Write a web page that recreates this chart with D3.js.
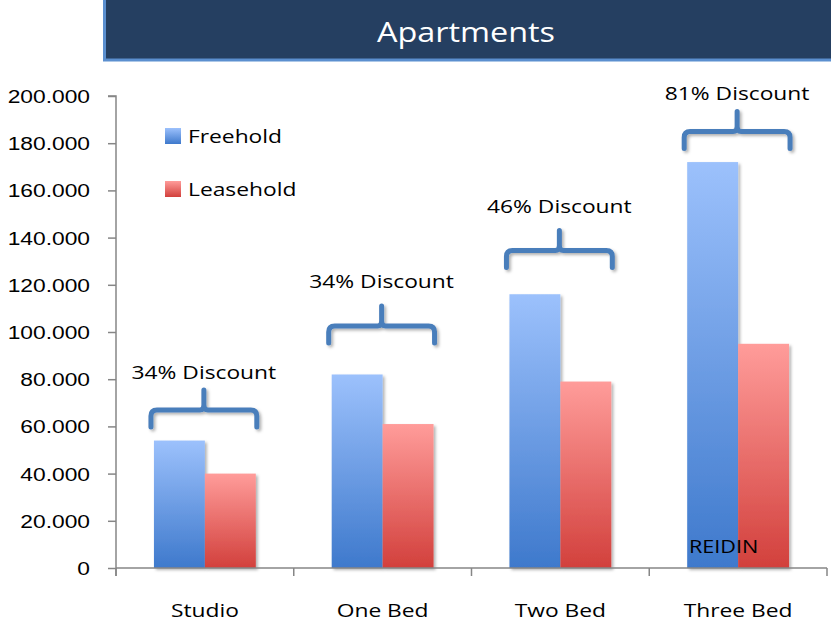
<!DOCTYPE html>
<html>
<head>
<meta charset="utf-8">
<script src="https://cdn.jsdelivr.net/npm/d3@7"></script>
<style>
  html, body { margin: 0; padding: 0; background: #fff; }
  svg { display: block; font-family: "Open Sans", sans-serif; }
</style>
</head>
<body>
<svg id="chart" width="831" height="624"></svg>
<script>
// Average prices per unit type (thousands)
const categories = ["Studio", "One Bed", "Two Bed", "Three Bed"];
const freehold = [54, 82, 116, 172];
const leasehold = [40, 61, 79, 95];
const discountLabels = ["34% Discount", "34% Discount", "46% Discount", "81% Discount"];
const braceLevels = [67, 102.5, 134.5, 185];
const labelLevels = [80, 118.5, 150.5, 198.3];
const yTicks = [0, 20, 40, 60, 80, 100, 120, 140, 160, 180, 200];
const seriesNames = ["Freehold", "Leasehold"];

const svg = d3.select("#chart");
const W = 831, H = 624;
const m = { left: 116, right: 4, top: 96, bottom: 56 };
const SX = 1.2; // wide lettering

const x = d3.scaleBand().domain(categories).range([m.left, W - m.right]).paddingInner(0).paddingOuter(0);
const sub = d3.scaleBand().domain(seriesNames).range([0, x.bandwidth()]).paddingInner(0).paddingOuter(0.745);
const y = d3.scaleLinear().domain([0, 200]).range([H - m.bottom, m.top]);

// place a text element at (px, py) with widened glyphs
function label(parent, px, py, str, size, anchor) {
  return parent.append("text")
    .attr("transform", `translate(${px},${py}) scale(${SX},1)`)
    .attr("text-anchor", anchor || "start")
    .attr("font-size", size).attr("fill", "#000").text(str);
}

const defs = svg.append("defs");
function grad(id, top, bottom) {
  const g = defs.append("linearGradient").attr("id", id).attr("x1", 0).attr("y1", 0).attr("x2", 0).attr("y2", 1);
  g.append("stop").attr("offset", "0%").attr("stop-color", top);
  g.append("stop").attr("offset", "100%").attr("stop-color", bottom);
}
grad("gFree", "#9cc1fc", "#3e79cc");
grad("gLease", "#ff9c9a", "#d2403c");
const sh = defs.append("filter").attr("id", "shadow").attr("x", "-20%").attr("y", "-20%").attr("width", "150%").attr("height", "150%");
sh.append("feDropShadow").attr("dx", 2).attr("dy", 2).attr("stdDeviation", 1.5).attr("flood-color", "#000").attr("flood-opacity", 0.3);

// Title banner
svg.append("rect").attr("x", 104.5).attr("y", -2).attr("width", 735).attr("height", 62)
  .attr("fill", "#253f61").attr("stroke", "#5b8fcf").attr("stroke-width", 3);
label(svg, 466, 42, "Apartments", 27, "middle").attr("fill", "#fff");

// Bars
const fills = { Freehold: "url(#gFree)", Leasehold: "url(#gLease)" };
const rows = categories.map((c, i) => ({ c, vals: [["Freehold", freehold[i]], ["Leasehold", leasehold[i]]] }));
const g = svg.append("g");
rows.forEach(r => {
  g.selectAll(null).data(r.vals).join("rect")
    .attr("x", d => x(r.c) + sub(d[0]))
    .attr("y", d => y(d[1]))
    .attr("width", sub.bandwidth())
    .attr("height", d => y(0) - y(d[1]))
    .attr("fill", d => fills[d[0]])
    .attr("filter", "url(#shadow)");
});

// Axes
const axisColor = "#868686";
const yAxis = svg.append("g").attr("transform", `translate(${m.left},0)`)
  .call(d3.axisLeft(y).tickValues(yTicks).tickSize(8).tickFormat(""));
yAxis.select(".domain").attr("stroke", axisColor).attr("stroke-width", 1.5).attr("d", `M-8,${y(200)}H0V${y(0) + 8}`);
yAxis.selectAll(".tick line").attr("stroke", axisColor).attr("stroke-width", 1.5);
yTicks.forEach(t => label(yAxis, -26, y(t) + 7, t === 0 ? "0" : t + ".000", 19, "end"));

const xAxis = svg.append("g").attr("transform", `translate(0,${y(0)})`);
xAxis.append("line").attr("x1", m.left).attr("x2", W - m.right).attr("stroke", axisColor).attr("stroke-width", 1.5);
const bounds = categories.map(c => x(c)).concat([x(categories[categories.length - 1]) + x.bandwidth()]);
xAxis.selectAll(null).data(bounds).join("line")
  .attr("x1", d => d).attr("x2", d => d).attr("y1", 0).attr("y2", 8)
  .attr("stroke", axisColor).attr("stroke-width", 1.5);
categories.forEach(c => label(xAxis, x(c) + x.bandwidth() / 2, 49, c, 19, "middle"));

// Discount braces and labels
const brace = svg.append("g");
categories.forEach((c, i) => {
  const x0 = x(c) + sub("Freehold") - 3;
  const x1 = x(c) + sub("Leasehold") + sub.bandwidth() + 1;
  const cx = (x0 + x1) / 2;
  const yl = y(braceLevels[i]);
  const r = 6;
  const p = `M${x0},${yl + 17} V${yl + r} Q${x0},${yl} ${x0 + r},${yl} H${cx - 4} Q${cx},${yl} ${cx},${yl - 5} V${yl - 20}` +
            ` M${cx},${yl - 5} Q${cx},${yl} ${cx + 4},${yl} H${x1 - r} Q${x1},${yl} ${x1},${yl + r} V${yl + 17}`;
  brace.append("path").attr("d", p).attr("fill", "none").attr("stroke", "#4a7ebb")
    .attr("stroke-width", 5).attr("stroke-linecap", "round").attr("stroke-linejoin", "round")
    .attr("filter", "url(#shadow)");
  label(brace, cx, y(labelLevels[i]), discountLabels[i], 19, "middle");
});

// Legend
const legend = svg.append("g");
seriesNames.forEach((s, i) => {
  const ly = 136 + i * 53;
  legend.append("rect").attr("x", 165).attr("y", ly - 8).attr("width", 16).attr("height", 16)
    .attr("fill", fills[s]);
  label(legend, 188, ly + 7, s, 19, "start");
});

// Source mark
label(svg, 689, 553, "REIDIN", 18, "start");
</script>
</body>
</html>
